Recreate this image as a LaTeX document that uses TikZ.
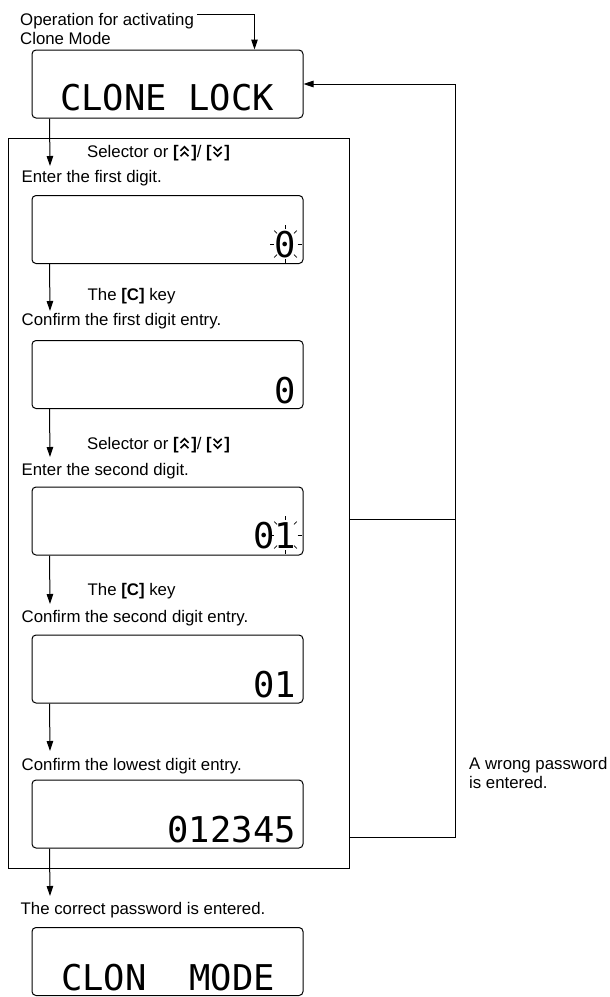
\documentclass[tikz,border=0pt]{standalone}
\usepackage{fontspec}
\setmainfont{Liberation Sans}
\newfontfamily\lcdfont{DejaVu Sans Mono}
\usetikzlibrary{arrows.meta,calc}
\newcommand\chevup{\tikz[x=1pt,y=1pt,baseline=0pt]{\draw[line width=1.6pt,line cap=butt,line join=miter] (0,0.8)--(4,4.8)--(8,0.8) (0,6.2)--(4,10.2)--(8,6.2);}}
\newcommand\chevdown{\tikz[x=1pt,y=1pt,baseline=0pt]{\draw[line width=1.6pt,line cap=butt,line join=miter] (0,10.2)--(4,6.2)--(8,10.2) (0,4.8)--(4,0.8)--(8,4.8);}}
\newcommand\selkeys{Selector or \textbf{[}\kern1pt\chevup\kern2pt\textbf{]}/ \textbf{[}\kern1pt\chevdown\kern2pt\textbf{]}}
\begin{document}
\begin{tikzpicture}[x=1pt,y={(0pt,-1pt)},
  lcd/.style={draw,line width=1pt,rounded corners=4pt,minimum width=271pt,minimum height=68pt,inner sep=0pt},
  lbl/.style={anchor=base west,inner sep=0pt,font=\fontsize{16.8}{19.5}\selectfont},
  lcdtxt/.style={inner sep=0pt,font=\lcdfont\fontsize{35.5}{40}\selectfont},
  arr/.style={line width=1pt,-{Triangle[length=10pt,width=6.5pt]}},
  conn/.style={line width=1pt},
  ray/.style={line width=0.7pt}]
\useasboundingbox (0,0) rectangle (610,997);

% frame
\node[draw,line width=1pt,minimum width=341pt,minimum height=730pt,inner sep=0pt] (frame) at (178.5,503) {};

% boxes
\node[lcd] (b1) at (167.5,84) {};
\node[lcd] (b2) at (167.5,229.5) {};
\node[lcd] (b3) at (167.5,374.5) {};
\node[lcd] (b4) at (167.5,521) {};
\node[lcd] (b5) at (167.5,669) {};
\node[lcd] (b6) at (167.5,814) {};
\node[lcd] (b7) at (167.5,961.5) {};

% lcd texts
\node[lcdtxt,anchor=base west] (l1) at (60,110) {CLONE LOCK};
\node[lcdtxt,anchor=base east] (d2) at (296,257) {0};
\node[lcdtxt,anchor=base east] (d3) at (296,403) {0};
\node[lcdtxt,anchor=base east] (d4) at (296,548) {01};
\node[lcdtxt,anchor=base east] (d5) at (296,697) {01};
\node[lcdtxt,anchor=base east] (d6) at (296,842) {012345};
\node[lcdtxt,anchor=base west] (l7) at (61,990) {CLON~~MODE};

% blinking rays
\foreach \a in {0,45,...,315}{
  \draw[ray] ({285.5+12*cos(\a)},{244+15*sin(\a)}) -- ({285.5+16*cos(\a)},{244+19*sin(\a)});
  \draw[ray] ({285.5+12*cos(\a)},{535+15*sin(\a)}) -- ({285.5+16*cos(\a)},{535+19*sin(\a)});
}

% labels
\node[lbl] (op1) at (20,25) {Operation for activating};
\node[lbl] (op2) at (20,44) {Clone Mode};
\node[lbl] (s1) at (87,157) {\selkeys};
\node[lbl] (t1) at (21.5,182) {Enter the first digit.};
\node[lbl] (k1) at (87.5,300) {The \textbf{[C]} key};
\node[lbl] (t2) at (21.5,325) {Confirm the first digit entry.};
\node[lbl] (s2) at (87,449) {\selkeys};
\node[lbl] (t3) at (21.5,475) {Enter the second digit.};
\node[lbl] (k2) at (87.5,595) {The \textbf{[C]} key};
\node[lbl] (t4) at (21.5,622) {Confirm the second digit entry.};
\node[lbl] (t5) at (21.5,770) {Confirm the lowest digit entry.};
\node[lbl] (t6) at (20.5,914) {The correct password is entered.};
\node[lbl] (w1) at (469,769) {A wrong password};
\node[lbl] (w2) at (469,788) {is entered.};

% connectors
\coordinate (opc) at (197,14);
\draw[arr] (opc) -| ($(b1.north west)+(223,0)$);

\coordinate (a1) at (50,166);
\coordinate (a2) at (50,311);
\coordinate (a3) at (50,457);
\coordinate (a4) at (50,604);
\coordinate (a5) at (50,751);
\coordinate (a6) at (50,896);
\draw[arr] ($(b1.south west)+(18,0)$) -- (a1);
\draw[arr] ($(b2.south west)+(18,0)$) -- (a2);
\draw[arr] ($(b3.south west)+(18,0)$) -- (a3);
\draw[arr] ($(b4.south west)+(18,0)$) -- (a4);
\draw[arr] ($(b5.south west)+(18,0)$) -- (a5);
\draw[arr] ($(b6.south west)+(18,0)$) -- (a6);

\coordinate (wb) at (455,837);
\coordinate (wt) at (455,84);
\coordinate (wm) at (455,519);
\draw[arr] (frame.east |- wb) -- (wb) -- (wt) -- (b1.east);
\draw[conn] (frame.east |- wm) -- (wm);
\end{tikzpicture}
\end{document}
